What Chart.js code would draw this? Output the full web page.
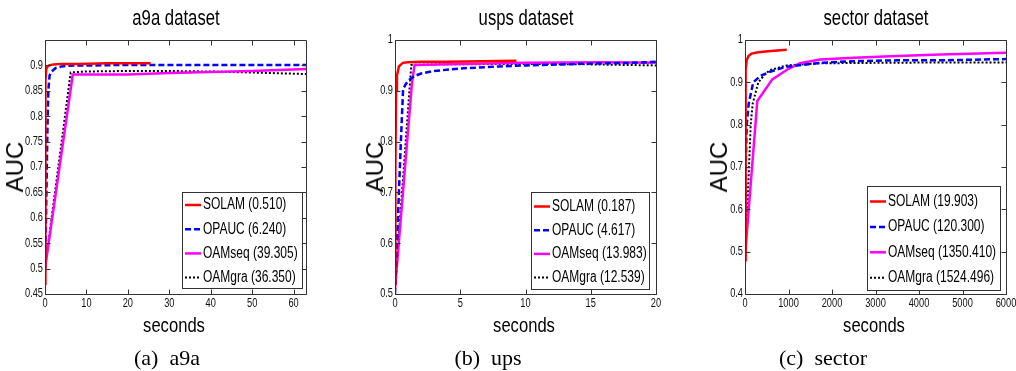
<!DOCTYPE html>
<html>
<head>
<meta charset="utf-8">
<script src="https://cdn.jsdelivr.net/npm/chart.js@4.4.1/dist/chart.umd.min.js"></script>
<style>
html,body{margin:0;padding:0;background:#fff;width:1016px;height:371px;overflow:hidden;position:relative}
canvas{position:absolute;left:0;top:0}
.t{position:absolute;white-space:nowrap;color:#000;line-height:1;transform:translateX(-50%)}
.title{font-family:"Liberation Sans",Arial,sans-serif;font-size:22px;top:7px;transform:translateX(-50%) scaleX(0.76)}
.xl{font-family:"Liberation Sans",Arial,sans-serif;font-size:20px;top:315px;transform:translateX(-50%) scaleX(0.83)}
.yl{font-family:"Liberation Sans",Arial,sans-serif;font-size:24px;top:167px;transform:translate(-50%,-50%) rotate(-90deg)}
.cap{font-family:"Liberation Serif","Times New Roman",serif;font-size:22px;top:347px}
</style>
</head>
<body>
<canvas id="ca" width="1016" height="371"></canvas>
<canvas id="cb" width="1016" height="371"></canvas>
<canvas id="cc" width="1016" height="371"></canvas>

<div class="t title" style="left:175.5px">a9a dataset</div>
<div class="t title" style="left:525.5px">usps dataset</div>
<div class="t title" style="left:875.5px">sector dataset</div>
<div class="t yl" style="left:15px">AUC</div>
<div class="t yl" style="left:375px">AUC</div>
<div class="t yl" style="left:719px">AUC</div>
<div class="t xl" style="left:174px">seconds</div>
<div class="t xl" style="left:524px">seconds</div>
<div class="t xl" style="left:874px">seconds</div>
<div class="t cap" style="left:167px">(a)&nbsp;&nbsp;a9a</div>
<div class="t cap" style="left:488px">(b)&nbsp;&nbsp;ups</div>
<div class="t cap" style="left:823px">(c)&nbsp;&nbsp;sector</div>

<script>
// ---------------- data ----------------
const seriesNames = ['SOLAM', 'OPAUC', 'OAMseq', 'OAMgra'];

// (a) a9a
const timesA = ['0.510', '6.240', '39.305', '36.350'];
const solamAx = [0, 0.05, 0.15, 0.3, 0.6, 1, 2, 4, 8, 15, 25.5];
const solamAy = [0.47, 0.75, 0.87, 0.893, 0.898, 0.9, 0.902, 0.903, 0.903, 0.904, 0.904];
const opaucAx = [0, 0.15, 0.4, 0.6, 0.8, 1.1, 1.6, 2.6, 4, 7, 12, 20, 40, 63];
const opaucAy = [0.5, 0.55, 0.68, 0.78, 0.85, 0.88, 0.888, 0.895, 0.898, 0.9, 0.9, 0.901, 0.901, 0.901];
const oamseqAx = [0, 6.7, 10, 20, 30, 40, 50, 63];
const oamseqAy = [0.5, 0.882, 0.882, 0.882, 0.885, 0.887, 0.889, 0.893];
const oamgraAx = [0, 6.2, 10, 20, 30, 40, 50, 63];
const oamgraAy = [0.5, 0.886, 0.888, 0.889, 0.889, 0.888, 0.886, 0.883];
const xTicksA = ['0', '10', '20', '30', '40', '50', '60'];
const yTicksA = ['0.45', '0.5', '0.55', '0.6', '0.65', '0.7', '0.75', '0.8', '0.85', '0.9'];

// (b) usps
const timesB = ['0.187', '4.617', '13.983', '12.539'];
const solamBx = [0, 0.03, 0.08, 0.15, 0.3, 0.6, 1, 2, 4, 9.3];
const solamBy = [0.52, 0.75, 0.9, 0.93, 0.948, 0.955, 0.956, 0.957, 0.957, 0.959];
const opaucBx = [0, 0.15, 0.3, 0.45, 0.62, 0.8, 1, 1.5, 2, 3, 5, 8, 10, 14, 18, 20];
const opaucBy = [0.5, 0.6, 0.7, 0.8, 0.903, 0.912, 0.92, 0.929, 0.934, 0.939, 0.944, 0.948, 0.95, 0.953, 0.955, 0.957];
const oamseqBx = [0, 1.3, 1.5, 5, 10, 16, 20];
const oamseqBy = [0.51, 0.915, 0.951, 0.953, 0.955, 0.956, 0.955];
const oamgraBx = [0, 1.25, 3, 10, 15, 20];
const oamgraBy = [0.51, 0.951, 0.952, 0.953, 0.952, 0.95];
const xTicksB = ['0', '5', '10', '15', '20'];
const yTicksB = ['0.5', '0.6', '0.7', '0.8', '0.9', '1'];

// (c) sector
const timesC = ['19.903', '120.300', '1350.410', '1524.496'];
const solamCx = [0, 8, 20, 40, 80, 150, 300, 600, 960];
const solamCy = [0.48, 0.88, 0.93, 0.952, 0.962, 0.968, 0.971, 0.974, 0.977];
const opaucCx = [0, 15, 40, 85, 190, 350, 575, 958, 1724, 2500, 3500, 4500, 6000];
const opaucCy = [0.5, 0.7, 0.8, 0.85, 0.9, 0.915, 0.925, 0.937, 0.946, 0.95, 0.952, 0.952, 0.955];
const oamseqCx = [0, 283, 628, 1000, 1264, 1724, 2500, 3500, 4500, 6000];
const oamseqCy = [0.49, 0.856, 0.907, 0.932, 0.945, 0.954, 0.958, 0.962, 0.966, 0.97];
const oamgraCx = [0, 53, 131, 177, 306, 450, 575, 958, 1724, 3000, 4500, 6000];
const oamgraCy = [0.48, 0.6, 0.8, 0.85, 0.9, 0.918, 0.929, 0.94, 0.945, 0.946, 0.947, 0.947];
const xTicksC = ['0', '1000', '2000', '3000', '4000', '5000', '6000'];
const yTicksC = ['0.4', '0.5', '0.6', '0.7', '0.8', '0.9', '1'];

// ---------------- styles ----------------
const FONT = '"Liberation Sans", Arial, sans-serif';
const TICK_FONT = '12.5px ' + FONT, TICK_SX = 0.74;
const LEG_FONT = '16px ' + FONT, LEG_SX = 0.75;
const STYLES = [
  {color: '#ff0000', width: 2.5, dash: []},
  {color: '#0000ff', width: 2.5, dash: [6, 3]},
  {color: '#ff00ff', width: 2.5, dash: []},
  {color: '#000000', width: 2, dash: [2, 2]}
];

function narrowText(ctx, text, x, y, sx) {
  ctx.save();
  ctx.translate(x, y);
  ctx.scale(sx, 1);
  ctx.fillText(text, 0, 0);
  ctx.restore();
}

const framePlugin = {
  id: 'mlFrame',
  afterDraw(chart) {
    const ctx = chart.ctx, a = chart.chartArea, sx = chart.scales.x, sy = chart.scales.y;
    const L = Math.round(a.left) + 0.5, R = Math.round(a.right) + 0.5, T = Math.round(a.top) + 0.5, B = Math.round(a.bottom) + 0.5;
    ctx.save();
    ctx.strokeStyle = '#333';
    ctx.lineWidth = 1;
    ctx.setLineDash([]);
    ctx.beginPath();
    ctx.rect(L, T, R - L, B - T);
    sx.ticks.forEach(t => {
      const p = Math.round(sx.getPixelForValue(t.value)) + 0.5;
      ctx.moveTo(p, B); ctx.lineTo(p, B - 5);
      ctx.moveTo(p, T); ctx.lineTo(p, T + 5);
    });
    sy.ticks.forEach(t => {
      const p = Math.round(sy.getPixelForValue(t.value)) + 0.5;
      ctx.moveTo(L, p); ctx.lineTo(L + 5, p);
      ctx.moveTo(R, p); ctx.lineTo(R - 5, p);
    });
    ctx.stroke();
    // tick labels (condensed, MATLAB-like)
    ctx.fillStyle = '#111';
    ctx.font = TICK_FONT;
    ctx.textAlign = 'center';
    ctx.textBaseline = 'top';
    sx.ticks.forEach(t => narrowText(ctx, t.label, sx.getPixelForValue(t.value), a.bottom + 3, TICK_SX));
    ctx.textAlign = 'right';
    ctx.textBaseline = 'middle';
    sy.ticks.forEach(t => narrowText(ctx, t.label, a.left - 2, sy.getPixelForValue(t.value), TICK_SX));
    ctx.restore();
  }
};

const legendPlugin = {
  id: 'mlLegend',
  afterDraw(chart, args, o) {
    const ctx = chart.ctx;
    ctx.save();
    ctx.fillStyle = '#fff';
    ctx.fillRect(o.x, o.y, o.w, o.h);
    ctx.strokeStyle = '#333';
    ctx.lineWidth = 1;
    ctx.strokeRect(o.x + 0.5, o.y + 0.5, o.w, o.h);
    chart.data.datasets.forEach((ds, i) => {
      const cy = o.y + o.row0 + i * o.gap;
      ctx.beginPath();
      ctx.setLineDash(ds.borderDash || []);
      ctx.strokeStyle = ds.borderColor;
      ctx.lineWidth = ds.borderWidth;
      ctx.moveTo(o.x + 3, cy);
      ctx.lineTo(o.x + 19, cy);
      ctx.stroke();
      ctx.setLineDash([]);
      ctx.fillStyle = '#000';
      ctx.font = LEG_FONT;
      ctx.textBaseline = 'middle';
      ctx.textAlign = 'left';
      narrowText(ctx, ds.label, o.x + 21, cy, LEG_SX);
    });
    ctx.restore();
  }
};

function makePanel(id, cfg) {
  const YW = 40, XH = 20;
  const datasets = cfg.series.map((s, i) => ({
    label: seriesNames[i] + ' (' + cfg.times[i] + ')',
    data: s[0].map((v, k) => ({x: v, y: s[1][k]})),
    showLine: true,
    pointRadius: 0,
    borderColor: STYLES[i].color,
    backgroundColor: STYLES[i].color,
    borderWidth: STYLES[i].width,
    borderDash: STYLES[i].dash,
    tension: 0,
    fill: false
  }));
  const xVals = cfg.xTicks.map(Number), yVals = cfg.yTicks.map(Number);
  new Chart(document.getElementById(id), {
    type: 'scatter',
    data: {datasets},
    options: {
      responsive: false,
      animation: false,
      devicePixelRatio: 1,
      layout: {padding: {left: cfg.box.left - YW, right: 1016 - cfg.box.right, top: cfg.box.top, bottom: 371 - cfg.box.bottom - XH}},
      plugins: {legend: {display: false}, tooltip: {enabled: false}, mlLegend: cfg.legend},
      scales: {
        x: {
          type: 'linear', min: cfg.xMin, max: cfg.xMax,
          grid: {display: false}, border: {display: false},
          afterBuildTicks: s => { s.ticks = xVals.map(v => ({value: v})); },
          afterFit: s => { s.height = XH; s.paddingLeft = 0; s.paddingRight = 0; },
          ticks: {display: false, autoSkip: false, maxRotation: 0, minRotation: 0,
                  callback: (v, i) => cfg.xTicks[i]}
        },
        y: {
          type: 'linear', min: cfg.yMin, max: cfg.yMax,
          grid: {display: false}, border: {display: false},
          afterBuildTicks: s => { s.ticks = yVals.map(v => ({value: v})); },
          afterFit: s => { s.width = YW; s.paddingTop = 0; s.paddingBottom = 0; },
          ticks: {display: false, autoSkip: false, callback: (v, i) => cfg.yTicks[i]}
        }
      }
    },
    plugins: [framePlugin, legendPlugin]
  });
}

makePanel('ca', {
  series: [[solamAx, solamAy], [opaucAx, opaucAy], [oamseqAx, oamseqAy], [oamgraAx, oamgraAy]],
  times: timesA, xTicks: xTicksA, yTicks: yTicksA,
  xMin: 0, xMax: 63, yMin: 0.45, yMax: 0.95,
  box: {left: 45, right: 306, top: 40, bottom: 294},
  legend: {x: 182, y: 192, w: 120, h: 96, row0: 13, gap: 24.2}
});
makePanel('cb', {
  series: [[solamBx, solamBy], [opaucBx, opaucBy], [oamseqBx, oamseqBy], [oamgraBx, oamgraBy]],
  times: timesB, xTicks: xTicksB, yTicks: yTicksB,
  xMin: 0, xMax: 20, yMin: 0.5, yMax: 1,
  box: {left: 395, right: 656, top: 40, bottom: 294},
  legend: {x: 531, y: 192, w: 118, h: 97, row0: 14.5, gap: 23.7}
});
makePanel('cc', {
  series: [[solamCx, solamCy], [opaucCx, opaucCy], [oamseqCx, oamseqCy], [oamgraCx, oamgraCy]],
  times: timesC, xTicks: xTicksC, yTicks: yTicksC,
  xMin: 0, xMax: 6000, yMin: 0.4, yMax: 1,
  box: {left: 745, right: 1006, top: 40, bottom: 294},
  legend: {x: 867, y: 186, w: 133, h: 104, row0: 15.5, gap: 25.4}
});
</script>
</body>
</html>
